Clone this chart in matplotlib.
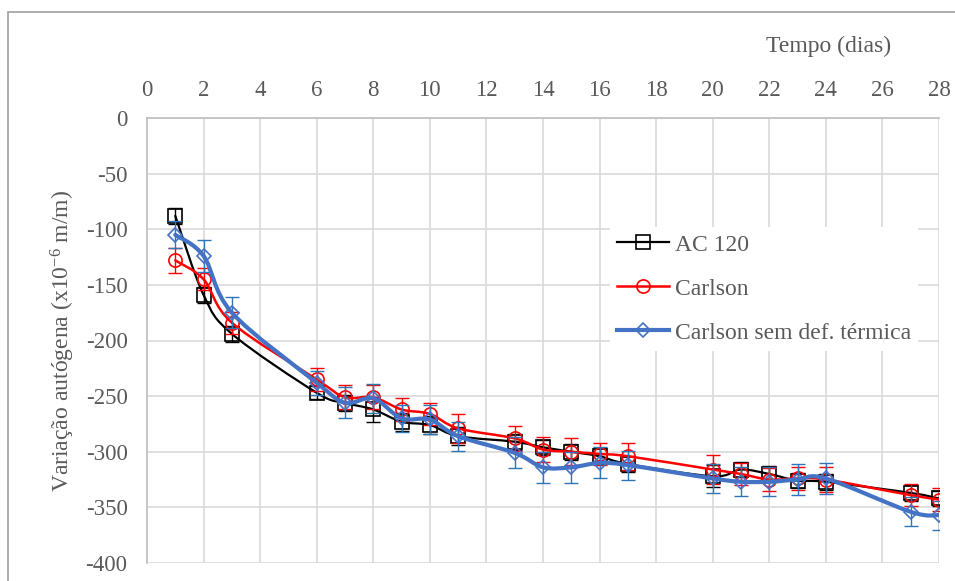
import numpy as np
import matplotlib
matplotlib.use("Agg")
import matplotlib.pyplot as plt
from matplotlib.path import Path
from matplotlib.patches import PathPatch, Rectangle

plt.rcParams["font.family"] = ["Liberation Serif", "DejaVu Serif"]
plt.rcParams["mathtext.fontset"] = "custom"
plt.rcParams["mathtext.rm"] = "Liberation Serif"
plt.rcParams["mathtext.it"] = "Liberation Serif:italic"
plt.rcParams["axes.unicode_minus"] = False

TXT = "#595959"
GRID = "#D9D9D9"

days = [1, 2, 3, 6, 7, 8, 9, 10, 11, 13, 14, 15, 16, 17, 20, 21, 22, 23, 24, 27, 28]

ac120 = [-88, -159, -194, -247, -256, -262, -273, -276, -286, -291, -296, -300,
         -304, -311, -322, -316, -320, -326, -327, -337, -342]
ac120_err = [7, 7, 7, 6, 7, 11, 8, 8, 8, 7, 7, 7, 7, 7, 10, 7, 7, 7, 7, 7, 7]

carlson = [-128, -145, -184, -235, -251, -251, -262, -266, -279, -288, -298, -300,
           -302, -304, -316, -320, -325, -324, -325, -339, -343]
carlson_err = [11, 10, 10, 10, 11, 11, 10, 10, 13, 11, 11, 12, 10, 12, 13, 10, 10,
               10, 11, 10, 10]

carlson_st = [-105, -124, -175, -238, -256, -252, -270, -271, -286, -301, -314, -314,
              -310, -312, -324, -327, -327, -325, -324, -354, -357]
carlson_st_err = [12, 14, 14, 11, 14, 13, 12, 13, 13, 14, 14, 14, 14, 13, 13, 13, 13,
                  14, 14, 13, 13]

labels = ["AC 120", "Carlson", "Carlson sem def. térmica"]
xticks = list(range(0, 29, 2))
yticks = list(range(-400, 1, 50))


def smooth_path(x, y):
    # Excel style smoothed line: cubic bezier through the points
    p = np.column_stack([x, y]).astype(float)
    pp = np.vstack([p[0], p, p[-1]])
    verts = [p[0]]
    codes = [Path.MOVETO]
    for i in range(len(p) - 1):
        c1 = pp[i + 1] + (pp[i + 2] - pp[i]) / 6.0
        c2 = pp[i + 2] - (pp[i + 3] - pp[i + 1]) / 6.0
        verts += [c1, c2, p[i + 1]]
        codes += [Path.CURVE4] * 3
    return Path(verts, codes)


fig = plt.figure(figsize=(9.55, 5.81), dpi=100)
ax = fig.add_axes([147 / 955, 1 - 563 / 581, 792 / 955, 445 / 581])

series = [
    (ac120, ac120_err, "black", "black", "s", 9.5, 1.6),
    (carlson, carlson_err, "#FF0000", "#FF0000", "o", 9.5, 1.8),
    (carlson_st, carlson_st_err, "#4472C4", "#2E75B6", "D", 6.8, 3.0),
]

handles = []
for k, (vals, err, col, ecol, mk, ms, lw) in enumerate(series):
    ax.errorbar(days, vals, yerr=err, fmt="none", ecolor=ecol, elinewidth=1,
                capsize=5, capthick=1, zorder=3 + k)
    ax.add_patch(PathPatch(smooth_path(days, vals), fill=False, edgecolor=col,
                           lw=lw, zorder=3 + k, capstyle="round"))
    h, = ax.plot(days, vals, linestyle="none", marker=mk, ms=ms,
                 markerfacecolor="none", markeredgecolor=col, mew=1.2,
                 zorder=3.5 + k)
    handles.append(plt.Line2D([], [], color=col, lw=lw, marker=mk, ms=ms,
                              markerfacecolor="none", markeredgecolor=col, mew=1.2))

ax.set_xlim(0, 28)
ax.set_ylim(-400, 0)
ax.set_xticks(xticks)
ax.set_yticks(yticks)
ax.xaxis.tick_top()
ax.grid(True, color=GRID, lw=1.2)
ax.set_axisbelow(True)
ax.tick_params(length=0, labelsize=16.5, colors=TXT)
ax.tick_params(axis="x", pad=12)
ax.tick_params(axis="y", pad=14)
for s in ["right", "bottom"]:
    ax.spines[s].set_visible(False)
for s in ["left", "top"]:
    ax.spines[s].set_color("#BFBFBF")
    ax.spines[s].set_linewidth(1.2)

ax.xaxis.set_label_position("top")
ax.set_xlabel("Tempo (dias)", fontsize=17, color=TXT)
ax.xaxis.set_label_coords(0.861, 1.16)
ax.xaxis.label.set_verticalalignment("center")
ax.set_ylabel(r"Variação autógena (x10$^{\mathregular{-6}}$ m/m)", fontsize=17, color=TXT)
ax.yaxis.set_label_coords(-0.106, 0.5)
ax.yaxis.label.set_verticalalignment("center")

leg = ax.legend(handles, labels, loc="upper left",
                bbox_to_anchor=(610 / 955, 1 - 227 / 581), bbox_transform=fig.transFigure,
                fontsize=17, frameon=True, facecolor="white", edgecolor="none",
                framealpha=1, fancybox=False, handlelength=2.2, handletextpad=0.25,
                labelspacing=0.95, borderpad=0.3, borderaxespad=0)
for t in leg.get_texts():
    t.set_color(TXT)

fig.patches.append(Rectangle((8 / 955, -0.05), 1.2, 1 - 12 / 581 + 0.05,
                             transform=fig.transFigure, fill=False,
                             edgecolor="#A0A0A0", lw=1.2))

fig.savefig("out.png", dpi=100)
